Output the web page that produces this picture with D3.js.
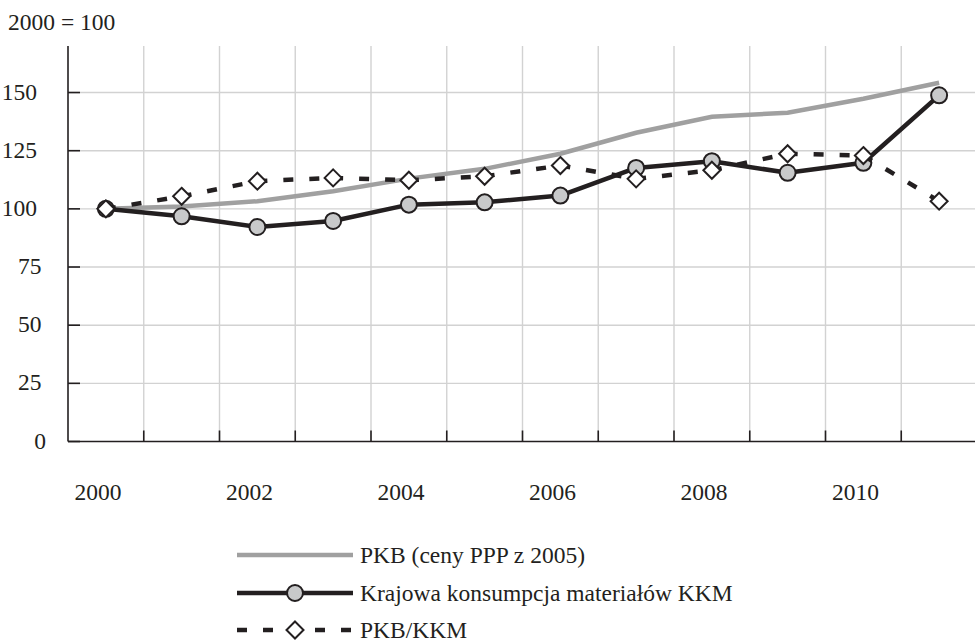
<!DOCTYPE html>
<html>
<head>
<meta charset="utf-8">
<script src="https://cdn.jsdelivr.net/npm/d3@7"></script>
<style>
  body { margin: 0; background: #fff; }
  svg text { font-family: "Liberation Serif", Tinos, "Times New Roman", "DejaVu Serif", serif; fill: #231f20; }
</style>
</head>
<body>
<svg width="975" height="643"></svg>
<script>
// data (2000 = 100)
const years = [2000, 2001, 2002, 2003, 2004, 2005, 2006, 2007, 2008, 2009, 2010, 2011];
const pkb = [100, 101, 103.3, 107.6, 113, 117.2, 123.7, 132.7, 139.6, 141.3, 147.3, 154.2];
const kkm = [100, 96.8, 92.2, 94.8, 101.8, 102.8, 105.7, 117.6, 120.5, 115.5, 119.8, 148.8];
const ratio = [100, 105.4, 111.9, 113.3, 112.3, 114, 118.6, 112.9, 116.6, 123.7, 122.9, 103.3];
const yTicks = [0, 25, 50, 75, 100, 125, 150];
const xLabels = [2000, 2002, 2004, 2006, 2008, 2010];
const legendNames = ["PKB (ceny PPP z 2005)", "Krajowa konsumpcja materiałów KKM", "PKB/KKM"];
const unitLabel = "2000 = 100";

const ink = "#231f20";
const fontSize = 23.5;
const fontFamily = '"Liberation Serif", Tinos, "Times New Roman", "DejaVu Serif", serif';
const svg = d3.select("svg");

const x = d3.scaleBand().domain(years).range([68, 977]).padding(0);
const y = d3.scaleLinear().domain([0, 170]).range([441.5, 46]);
const cx = (d) => x(d) + x.bandwidth() / 2;

// gridlines
const grid = svg.append("g").attr("class", "grid");
grid.selectAll("line.h")
  .data(yTicks.filter((d) => d > 0))
  .enter()
  .append("line")
  .attr("x1", 68).attr("x2", 975)
  .attr("y1", (d) => y(d)).attr("y2", (d) => y(d))
  .attr("stroke", "#d2d2d2").attr("stroke-width", 1.4);
grid.selectAll("line.v")
  .data(years.slice(1))
  .enter()
  .append("line")
  .attr("x1", (d) => x(d)).attr("x2", (d) => x(d))
  .attr("y1", y(170)).attr("y2", y(0))
  .attr("stroke", "#d2d2d2").attr("stroke-width", 1.4);

// axes lines and inner ticks
const axes = svg.append("g").attr("class", "axes").attr("stroke", ink).attr("stroke-width", 1.6);
axes.append("line").attr("x1", 68).attr("x2", 68).attr("y1", y(170)).attr("y2", y(0));
axes.append("line").attr("x1", 68).attr("x2", 975).attr("y1", y(0)).attr("y2", y(0));
axes.selectAll("line.yt")
  .data(yTicks)
  .enter()
  .append("line")
  .attr("x1", 68).attr("x2", 80)
  .attr("y1", (d) => y(d)).attr("y2", (d) => y(d));
axes.selectAll("line.xt")
  .data(years.slice(1))
  .enter()
  .append("line")
  .attr("x1", (d) => x(d)).attr("x2", (d) => x(d))
  .attr("y1", y(0)).attr("y2", y(0) - 11);

// tick labels
const labels = svg.append("g").attr("font-family", fontFamily).attr("font-size", fontSize);
labels.selectAll("text.y")
  .data(yTicks)
  .enter()
  .append("text")
  .attr("x", (d) => 37 + (3 - String(d).length) * 4.5)
  .attr("y", (d) => y(d) + 7)
  .attr("text-anchor", "end")
  .text((d) => d);

labels.selectAll("text.x")
  .data(xLabels)
  .enter()
  .append("text")
  .attr("x", (d) => cx(d) - 8)
  .attr("y", 500)
  .attr("text-anchor", "middle")
  .text((d) => d);

labels.append("text")
  .attr("x", 8).attr("y", 30)
  .text(unitLabel);

// series
const line = d3.line().x((d) => cx(d[0])).y((d) => y(d[1]));
const diamond = (h) => `M0,${-h}L${h},0L0,${h}L${-h},0Z`;

svg.append("path")
  .datum(d3.zip(years, pkb))
  .attr("d", line)
  .attr("fill", "none")
  .attr("stroke", "#a0a0a0")
  .attr("stroke-width", 4.5);

svg.append("path")
  .datum(d3.zip(years, kkm))
  .attr("d", line)
  .attr("fill", "none")
  .attr("stroke", ink)
  .attr("stroke-width", 4.5)
  .attr("stroke-linejoin", "round");

svg.append("g")
  .selectAll("circle")
  .data(d3.zip(years, kkm))
  .enter()
  .append("circle")
  .attr("cx", (d) => cx(d[0]))
  .attr("cy", (d) => y(d[1]))
  .attr("r", 8)
  .attr("fill", "#c8c9ca")
  .attr("stroke", ink)
  .attr("stroke-width", 2);

// dashed ratio line, pattern restarts on each segment
const ratioPts = d3.zip(years, ratio);
svg.append("g")
  .selectAll("path")
  .data(d3.pairs(ratioPts))
  .enter()
  .append("path")
  .attr("d", (d) => line(d))
  .attr("fill", "none")
  .attr("stroke", ink)
  .attr("stroke-width", 4.5)
  .attr("stroke-dasharray", "10,16");

svg.append("g")
  .selectAll("path")
  .data(ratioPts)
  .enter()
  .append("path")
  .attr("d", diamond(8.5))
  .attr("transform", (d) => `translate(${cx(d[0])},${y(d[1])})`)
  .attr("fill", "#fff")
  .attr("stroke", ink)
  .attr("stroke-width", 2);

// legend
const legendY = [555, 593, 630];
const lg = svg.append("g").attr("class", "legend");
lg.append("line")
  .attr("x1", 237).attr("x2", 353).attr("y1", legendY[0]).attr("y2", legendY[0])
  .attr("stroke", "#a0a0a0").attr("stroke-width", 4.5);
lg.append("line")
  .attr("x1", 237).attr("x2", 353).attr("y1", legendY[1]).attr("y2", legendY[1])
  .attr("stroke", ink).attr("stroke-width", 4.5);
lg.append("circle")
  .attr("cx", 295).attr("cy", legendY[1]).attr("r", 8)
  .attr("fill", "#c8c9ca").attr("stroke", ink).attr("stroke-width", 2);
lg.append("line")
  .attr("x1", 237).attr("x2", 353).attr("y1", legendY[2]).attr("y2", legendY[2])
  .attr("stroke", ink).attr("stroke-width", 4.5).attr("stroke-dasharray", "10,16");
lg.append("path")
  .attr("d", diamond(8.5))
  .attr("transform", `translate(295,${legendY[2]})`)
  .attr("fill", "#fff").attr("stroke", ink).attr("stroke-width", 2);
lg.selectAll("text")
  .data(legendNames)
  .enter()
  .append("text")
  .attr("x", 360)
  .attr("y", (d, i) => legendY[i] + 8)
  .attr("font-family", fontFamily)
  .attr("font-size", fontSize)
  .text((d) => d);
</script>
</body>
</html>
